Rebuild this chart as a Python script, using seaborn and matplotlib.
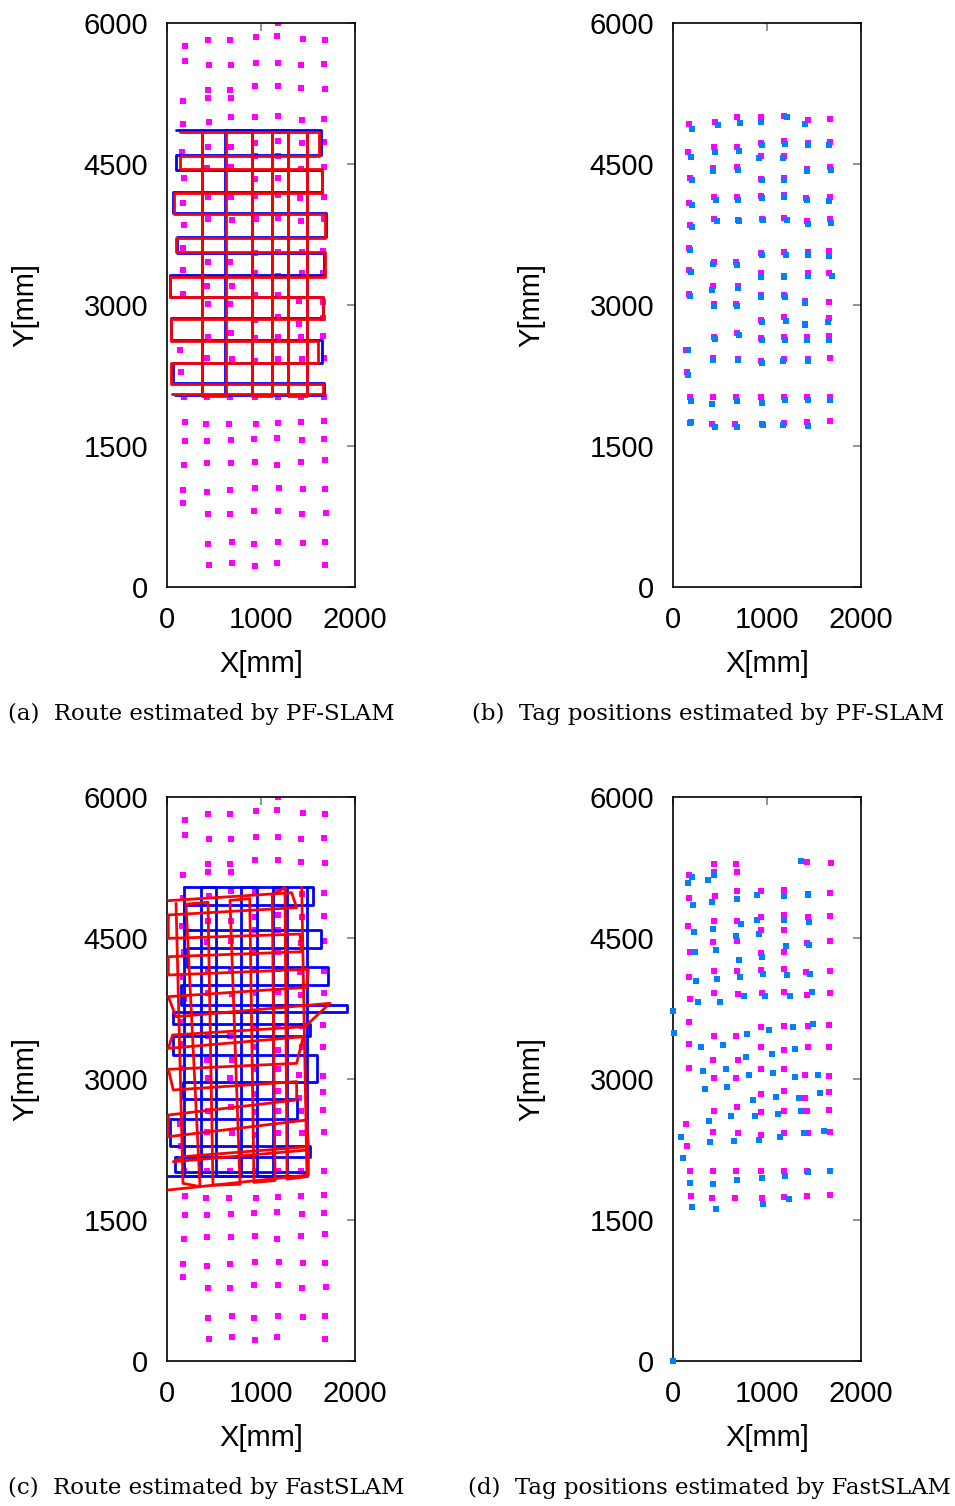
import numpy as np
import pandas as pd
import matplotlib
matplotlib.use("Agg")
import matplotlib.pyplot as plt
import seaborn as sns

# ---------------- data (mm) ----------------
# ground-truth tag positions (magenta)
gt_x = [1184,
        195, 440, 674, 950, 1174, 1450, 1684,
        195, 450, 684, 950, 1184, 1429, 1674,
        440, 674, 940, 1184, 1429, 1684,
        440, 684, 174,
        174, 450, 684, 940, 1184, 1440, 1674,
        440, 684, 940, 1184, 1440, 1674, 163, 940, 1184,
        429, 684, 1429, 1674, 184, 940, 1184,
        440, 684, 940, 1184, 1418, 1674, 174,
        440, 695, 950, 1184, 1429, 1674, 184,
        174, 1184, 1440, 1663, 940,
        440, 674, 174, 1440, 1663, 940, 1184,
        429, 695, 174, 940, 1184,
        1408, 1663, 440, 674,
        1184, 1663, 1408, 940,
        440, 684, 940, 1184, 1429, 1663,
        142,
        429, 695, 940, 1184, 1440, 1674,
        152,
        184, 429, 674, 940, 1184, 1429, 1674,
        195, 418, 663, 950, 1184, 1429, 1674,
        195, 429, 684, 929, 1174, 1440, 1674,
        184, 429, 684, 940, 1174, 1429, 1684,
        174, 429, 674, 940, 1195, 1450, 1684,
        174,
        440, 674, 929, 1184, 1440, 1695,
        440, 695, 929, 1184, 1450, 1684,
        450, 695, 940, 1174, 1684]
gt_y = [5996,
        5752, 5816, 5816, 5848, 5858, 5826, 5816,
        5592, 5550, 5550, 5571, 5571, 5550, 5560,
        5284, 5284, 5326, 5326, 5305, 5294,
        5199, 5199, 5167,
        4922, 4943, 4997, 4997, 5007, 4965, 4975,
        4677, 4677, 4720, 4741, 4720, 4731, 4624, 4581, 4581,
        4454, 4465, 4450, 4465, 4348, 4337, 4348,
        4145, 4145, 4156, 4167, 4135, 4145, 4082,
        3911, 3901, 3911, 3922, 3890, 3911, 3848,
        3603, 3560, 3560, 3571, 3550,
        3454, 3454, 3369, 3337, 3337, 3337, 3305,
        3199, 3199, 3114, 3103, 3103,
        3039, 3028, 3007, 3007,
        2869, 2858, 2794, 2837,
        2663, 2699, 2645, 2656, 2656, 2667,
        2518,
        2433, 2422, 2401, 2422, 2422, 2433,
        2284,
        2018, 2018, 2018, 2018, 2018, 2018, 2018,
        1752, 1731, 1731, 1731, 1741, 1752, 1762,
        1550, 1550, 1560, 1571, 1582, 1560, 1571,
        1294, 1316, 1316, 1326, 1294, 1326, 1348,
        1028, 1007, 1028, 1050, 1050, 1039, 1039,
        890,
        773, 773, 805, 805, 773, 784,
        454, 475, 454, 475, 465, 475,
        230, 252, 220, 252, 230]

# range of observed tags in (b) and (d)
obs_b_range = [1690, 5010]
obs_d_range = [1700, 5310]

# (b) tag positions estimated by PF-SLAM
pf_tag_x = [206, 482, 716, 940, 1216, 1408,
            195, 450, 706, 950, 1195, 1440, 1663, 918, 1174,
            429, 695, 206, 950, 1184, 1429, 1684,
            206, 461, 695, 950, 1184, 1429, 1663,
            206, 472, 706, 961, 1216, 1440, 1684,
            184, 950, 1206, 1440, 1663, 429, 684, 195,
            940, 1184, 1440, 1695,
            418, 695, 184, 940, 1195, 1408, 440, 684,
            950, 1206, 1408, 1652,
            450, 706, 950, 1195, 1429, 1663,
            163, 429, 695, 950, 1174, 1440,
            163,
            195, 418, 684, 950, 1195, 1440, 1674,
            184, 450, 684, 961, 1174, 1440]
pf_tag_y = [4869, 4911, 4933, 4943, 4997, 4922,
            4571, 4624, 4635, 4699, 4709, 4699, 4699, 4560, 4560,
            4422, 4433, 4326, 4326, 4326, 4422, 4433,
            4060, 4114, 4114, 4135, 4145, 4114, 4103,
            3826, 3890, 3890, 3901, 3901, 3858, 3869,
            3582, 3528, 3528, 3528, 3518, 3433, 3422, 3348,
            3294, 3294, 3305, 3305,
            3156, 3177, 3092, 3082, 3082, 3018, 2986, 2986,
            2816, 2826, 2784, 2816,
            2635, 2677, 2624, 2624, 2624, 2624,
            2518, 2411, 2411, 2379, 2401, 2401,
            2252,
            1975, 1943, 1975, 1954, 1986, 1986, 1986,
            1741, 1699, 1699, 1720, 1720, 1709]

# (d) tag positions estimated by FastSLAM
fs_tag_x = [1365, 206, 440, 163, 376, 216, 418, 684, 897, 1184, 1440,
            727, 897, 1184, 1450, 227, 429, 674, 918, 1206, 1450,
            238, 461, 950, 706, 961, 1216, 1461, 248, 472, 716,
            759, 982, 1248, 1482, 270, 504, 4, 1025, 1280, 1493,
            14, 791, 301, 535, 1057, 1301, 780, 323, 567, 812, 1067,
            1301, 1546, 344, 578, 855, 1099, 1344, 1567, 621, 876,
            1121, 1365, 387, 89, 397, 652, 918, 1142, 1397, 1610,
            110, 184, 429, 684, 950, 1195, 1440, 1674,
            206, 461, 961, 1238, 0]
fs_tag_y = [5315, 5145, 5167, 5081, 5113, 4847, 4879, 4911, 4954, 4943, 4954,
            4645, 4688, 4688, 4666, 4560, 4592, 4518, 4539, 4411, 4422,
            4347, 4369, 4294, 4262, 4113, 4103, 4113, 4039, 4060, 4081,
            3879, 3879, 3879, 3922, 3816, 3816, 3720, 3521, 3550, 3581,
            3486, 3475, 3337, 3358, 3262, 3316, 3230, 3081, 3103, 3039, 3060,
            3018, 3039, 2890, 2911, 2773, 2805, 2794, 2847, 2603, 2603,
            2624, 2656, 2550, 2379, 2326, 2337, 2348, 2379, 2422, 2443,
            2156, 1890, 1879, 1922, 1943, 1965, 2007, 2018,
            1635, 1613, 1667, 1720, 0]

# (a) true route (blue): horizontal sweep levels and turning x, vertical sweep columns
a_blue_h_y = [4862, 4596, 4436, 4206, 3975, 3720, 3550, 3319, 3089, 2858, 2628, 2379, 2167, 2043]
a_blue_h_turn = [1642, 96, 1652, 60, 1688, 103, 1674, 32, 1663, 45, 1650, 60, 1674, 85]
a_blue_h_start = 96
a_blue_v_x = [369, 617, 901, 1113, 1290, 1486]
a_blue_v_turn = [2043, 4862, 2043, 4862, 2043, 4862]
# (a) PF-SLAM route (red)
a_red_h_y = [4844, 4580, 4447, 4195, 3965, 3710, 3560, 3300, 3080, 2850, 2620, 2380, 2160, 2053]
a_red_h_turn = [1621, 138, 1652, 75, 1684, 96, 1684, 32, 1663, 40, 1606, 45, 1663, 50]
a_red_h_start = 138
a_red_v_x = [369, 627, 901, 1113, 1290, 1486]
a_red_v_turn = [2030, 4844, 2030, 4844, 2030, 4844]

# (c) true route (blue)
c_blue_h_y = [5039, 4851, 4585, 4397, 4195, 4000, 3787, 3716, 3585, 3461, 3255,
              2972, 2791, 2571, 2291, 2167, 2014, 1968]
c_blue_h_turn = [1557, 181, 1635, 216, 1716, 149, 1911, 60, 1521, 60, 1592,
                 167, 1379, 32, 1521, 85, 1486, 14]
c_blue_h_start = 181
c_blue_v_x = [181, 358, 521, 787, 954, 1124, 1273, 1486]
c_blue_v_turn = [1968, 5039, 1968, 5039, 1968, 5039, 1968, 5039]
# (c) FastSLAM route (red): skewed sweep lines (left end -> right end)
c_red_h_x0 = [14, 14, 14, 14, 14, 14, 96, 60, 14, 14, 67, 14, 14, 174, 67, 14]
c_red_h_y0 = [4897, 4745, 4496, 4301, 4106, 3876, 3663, 3468, 3326, 3103, 2883, 2617, 2386, 2174, 2120, 1819]
c_red_h_x1 = [1326, 1379, 1415, 1433, 1504, 1486, 1734, 1468, 1450, 1379, 1379, 1379, 1486, 1504, 1504, 1504]
c_red_h_y1 = [4982, 4823, 4542, 4354, 4167, 3975, 3805, 3557, 3450, 3167, 2972, 2777, 2564, 2280, 2245, 1979]
# vertical sweep lines (top end -> bottom end)
c_red_v_x0 = [96, 202, 436, 670, 880, 1120, 1255, 1433]
c_red_v_y0 = [4869, 4860, 4880, 4900, 4920, 4950, 5040, 5040]
c_red_v_x1 = [170, 351, 489, 777, 925, 1149, 1277, 1489]
c_red_v_y1 = [1890, 1855, 1870, 1880, 1900, 1920, 1935, 1961]

captions = ["(a)  Route estimated by PF-SLAM",
            "(b)  Tag positions estimated by PF-SLAM",
            "(c)  Route estimated by FastSLAM",
            "(d)  Tag positions estimated by FastSLAM"]

# ---------------- helpers ----------------
def serp_h(levels, turns, start):
    xs, ys = [start], [levels[0]]
    for i, lv in enumerate(levels):
        if i > 0:
            xs.append(turns[i - 1]); ys.append(lv)
        xs.append(turns[i]); ys.append(lv)
    return xs, ys

def serp_v(cols, turns, start):
    xs, ys = [cols[0]], [start]
    for i, c in enumerate(cols):
        if i > 0:
            xs.append(c); ys.append(turns[i - 1])
        xs.append(c); ys.append(turns[i])
    return xs, ys

def zigzag(x0, y0, x1, y1):
    xs, ys = [], []
    for i in range(len(x0)):
        if i % 2 == 0:
            xs += [x0[i], x1[i]]; ys += [y0[i], y1[i]]
        else:
            xs += [x1[i], x0[i]]; ys += [y1[i], y0[i]]
    return xs, ys

def route_df(parts):
    rows = []
    for u, (xs, ys) in enumerate(parts):
        for k, (x, y) in enumerate(zip(xs, ys)):
            rows.append((x, y, u, k))
    return pd.DataFrame(rows, columns=["x", "y", "unit", "order"])

# ---------------- style ----------------
sns.set_style("white")
plt.rcParams["font.family"] = ["Liberation Sans", "DejaVu Sans"]
plt.rcParams["text.color"] = "black"
plt.rcParams["axes.labelcolor"] = "black"
plt.rcParams["xtick.color"] = "black"
plt.rcParams["ytick.color"] = "black"

MAG = "#ff00ff"
TAGB = "#0080ff"
BLUE = "#0000ff"
RED = "#ff0000"

W, H = 955, 1506
fig = plt.figure(figsize=(W / 100, H / 100), dpi=100)

boxes = [(167, 23), (673, 23), (167, 797), (673, 797)]
axes = []
for (l, t) in boxes:
    ax = fig.add_axes([l / W, 1 - (t + 564) / H, 188 / W, 564 / H])
    axes.append(ax)

gt = pd.DataFrame({"x": gt_x, "y": gt_y})

def style_axis(ax):
    ax.set_xlim(0, 2000)
    ax.set_ylim(0, 6000)
    ax.set_xticks([0, 1000, 2000])
    ax.set_yticks([0, 1500, 3000, 4500, 6000])
    ax.tick_params(direction="in", length=6, width=1.1, color="#777777",
                   top=True, right=True, labelsize=21, pad=13.5,
                   labelcolor="black")
    for s in ax.spines.values():
        s.set_visible(True)
        s.set_color("black")
        s.set_linewidth(1.2)
    ax.set_xlabel("X[mm]", fontsize=21, color="black")
    ax.set_ylabel("Y[mm]", fontsize=21, color="black")
    ax.xaxis.set_label_coords(0.5, -0.112)
    ax.yaxis.set_label_coords(-0.68, 0.5)

ms = 16
LW = 2.0

# (a)
ax = axes[0]
sns.scatterplot(data=gt, x="x", y="y", marker="s", s=ms, color=MAG,
                linewidth=0, ax=ax, zorder=2)
bl = route_df([serp_h(a_blue_h_y, a_blue_h_turn, a_blue_h_start),
               serp_v(a_blue_v_x, a_blue_v_turn, a_blue_v_turn[1])])
sns.lineplot(data=bl, x="x", y="y", units="unit", estimator=None, sort=False,
             color=BLUE, lw=LW, ax=ax, legend=False, zorder=3)
rd = route_df([serp_h(a_red_h_y, a_red_h_turn, a_red_h_start),
               serp_v(a_red_v_x, a_red_v_turn, a_red_v_turn[1])])
sns.lineplot(data=rd, x="x", y="y", units="unit", estimator=None, sort=False,
             color=RED, lw=LW, ax=ax, legend=False, zorder=4)

# (b)
ax = axes[1]
gb = gt[(gt.y >= obs_b_range[0]) & (gt.y <= obs_b_range[1])]
sns.scatterplot(data=gb, x="x", y="y", marker="s", s=ms, color=MAG,
                linewidth=0, ax=ax, zorder=2)
sns.scatterplot(x=pf_tag_x, y=pf_tag_y, marker="s", s=ms, color=TAGB,
                linewidth=0, ax=ax, zorder=3)

# (c)
ax = axes[2]
sns.scatterplot(data=gt, x="x", y="y", marker="s", s=ms, color=MAG,
                linewidth=0, ax=ax, zorder=2)
bl = route_df([serp_h(c_blue_h_y, c_blue_h_turn, c_blue_h_start),
               serp_v(c_blue_v_x, c_blue_v_turn, c_blue_v_turn[1])])
sns.lineplot(data=bl, x="x", y="y", units="unit", estimator=None, sort=False,
             color=BLUE, lw=LW, ax=ax, legend=False, zorder=3)
rd = route_df([zigzag(c_red_h_x0, c_red_h_y0, c_red_h_x1, c_red_h_y1),
               zigzag(c_red_v_x0, c_red_v_y0, c_red_v_x1, c_red_v_y1)])
sns.lineplot(data=rd, x="x", y="y", units="unit", estimator=None, sort=False,
             color=RED, lw=LW, ax=ax, legend=False, zorder=4)

# (d)
ax = axes[3]
gd = gt[(gt.y >= obs_d_range[0]) & (gt.y <= obs_d_range[1])]
sns.scatterplot(data=gd, x="x", y="y", marker="s", s=ms, color=MAG,
                linewidth=0, ax=ax, zorder=2)
sns.scatterplot(x=fs_tag_x, y=fs_tag_y, marker="s", s=ms, color=TAGB,
                linewidth=0, ax=ax, zorder=3, clip_on=False)

for ax in axes:
    style_axis(ax)

cap_pos = [(8, 714), (472, 714), (8, 1488), (468, 1488)]
for (cx, cy), txt in zip(cap_pos, captions):
    fig.text(cx / W, 1 - cy / H, txt, ha="left", va="center",
             fontsize=16.5, family=["DejaVu Serif"], color="black")

fig.savefig("out.png", dpi=100)
